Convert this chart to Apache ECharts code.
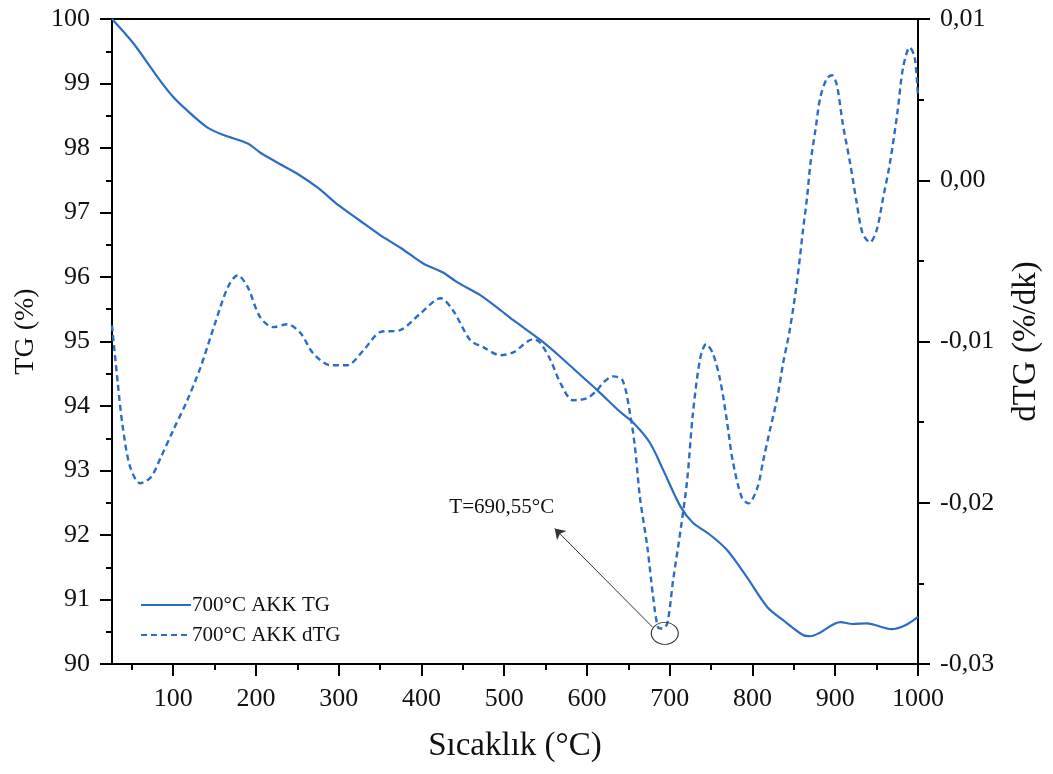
<!DOCTYPE html>
<html>
<head>
<meta charset="utf-8">
<script src="https://cdn.jsdelivr.net/npm/echarts@6/dist/echarts.min.js"></script>
<style>
html,body{margin:0;padding:0;background:#fff;}
#c{width:1053px;height:774px;}
</style>
</head>
<body>
<div id="c"></div>
<script>
// ---- data ----
const tgT = [26,52,81,100,117,141,161,190,205,225,250,275,300,325,350,375,402,426,443,471,495,511,544,568,592,612,640,656,676,692,713,728,749,769,793,818,837,861,870,882,906,921,938,968,986,1000];
const tgV = [100.00,99.62,99.10,98.79,98.58,98.32,98.20,98.07,97.93,97.78,97.60,97.38,97.11,96.88,96.65,96.45,96.21,96.07,95.92,95.72,95.49,95.33,95.02,94.76,94.48,94.25,93.91,93.74,93.43,93.01,92.44,92.19,92.00,91.77,91.35,90.88,90.68,90.45,90.43,90.49,90.65,90.62,90.63,90.54,90.61,90.73];
const dtgT = [26,33,39,48,60,73,85,100,117,133,149,166,178,190,205,221,238,254,269,290,310,330,350,374,399,423,438,459,475,495,511,535,543,556,568,583,600,612,620,632,643,652,658,664,673,680,686,691,697,704,713,721,728,737,744,752,761,769,776,787,795,806,813,821,830,837,845,854,861,866,870,876,882,890,896,902,909,918,926,933,942,950,958,966,975,982,990,996,1000];
const dtgV = [-0.0090,-0.01259,-0.01531,-0.01779,-0.01879,-0.01842,-0.01718,-0.01550,-0.01364,-0.01160,-0.00911,-0.00663,-0.00589,-0.00663,-0.00849,-0.00911,-0.00893,-0.00949,-0.01073,-0.01147,-0.01147,-0.01054,-0.00942,-0.00930,-0.00825,-0.00732,-0.00806,-0.00992,-0.01036,-0.01085,-0.01067,-0.00986,-0.01005,-0.01116,-0.01259,-0.01364,-0.01352,-0.01303,-0.01253,-0.01216,-0.01241,-0.01446,-0.01657,-0.01967,-0.02277,-0.02588,-0.02774,-0.02780,-0.02749,-0.02483,-0.02173,-0.01863,-0.01446,-0.01099,-0.01017,-0.01073,-0.01241,-0.01489,-0.01737,-0.01967,-0.02004,-0.01905,-0.01737,-0.01551,-0.01346,-0.01135,-0.00930,-0.00620,-0.00310,-0.00105,0.00105,0.00310,0.00515,0.00632,0.00651,0.00589,0.00353,0.00105,-0.00143,-0.00329,-0.00385,-0.00310,-0.00105,0.00105,0.00415,0.00700,0.00824,0.00762,0.00515];
const xMajorTicks = [100,200,300,400,500,600,700,800,900,1000];
const xMinorTicks = [50,150,250,350,450,550,650,750,850,950];
const seriesNames = ['700°C AKK TG','700°C AKK dTG'];
const annotText = 'T=690,55°C';
const peakT = 694, peakV = -0.0281;
const arrowFrom = [679, -0.0277], arrowTo = [561, -0.0216];
const textAt = [497, -0.0203];

const tgData = tgT.map((t,i)=>[t,tgV[i]]);
const dtgData = dtgT.map((t,i)=>[t,dtgV[i]]);

const FONT = '"Liberation Serif","Times New Roman",serif';
const BLUE = '#2d6cc4';

const chart = echarts.init(document.getElementById('c'), null, {renderer:'canvas'});
chart.setOption({
  animation:false,
  backgroundColor:'#fff',
  grid:{left:112,right:135,top:19,bottom:110,show:true,borderColor:'#000',borderWidth:2,backgroundColor:'transparent'},
  legend:{
    orient:'vertical',left:135,top:589,itemWidth:50,itemHeight:14,itemGap:8,
    itemStyle:{opacity:0},
    textStyle:{fontFamily:FONT,fontSize:21,color:'#111',lineHeight:22,padding:[0,0,0,-4]},
    data:seriesNames
  },
  xAxis:[{
    type:'value',min:26,max:1000,
    name:'Sıcaklık (°C)',nameLocation:'middle',nameGap:66,
    nameTextStyle:{fontFamily:FONT,fontSize:33,color:'#111'},
    axisLine:{show:true,onZero:false,lineStyle:{color:'#000',width:2}},
    axisTick:{show:true,inside:false,length:12,lineStyle:{color:'#000',width:2},customValues:xMajorTicks},
    axisLabel:{fontFamily:FONT,fontSize:26,color:'#111',margin:22,customValues:xMajorTicks,formatter:v=>String(v)},
    splitLine:{show:false}
  },{
    type:'value',min:26,max:1000,position:'bottom',
    axisLine:{show:false,onZero:false},
    axisTick:{show:true,length:6,lineStyle:{color:'#000',width:2},customValues:xMinorTicks},
    axisLabel:{show:false,customValues:xMinorTicks},
    splitLine:{show:false}
  }],
  yAxis:[{
    type:'value',min:90,max:100,interval:1,position:'left',
    name:'TG (%)',nameLocation:'middle',nameGap:70,
    nameTextStyle:{fontFamily:FONT,fontSize:28,color:'#111',padding:[0,0,0,20]},
    axisLine:{show:true,onZero:false,lineStyle:{color:'#000',width:2}},
    axisTick:{show:true,length:12,lineStyle:{color:'#000',width:2}},
    minorTick:{show:true,splitNumber:2,length:6,lineStyle:{color:'#000',width:2}},
    axisLabel:{fontFamily:FONT,fontSize:26,color:'#111',margin:22},
    splitLine:{show:false}
  },{
    type:'value',min:-0.03,max:0.01,interval:0.01,position:'right',
    name:'dTG (%/dk)',nameLocation:'middle',nameGap:92,nameRotate:90,
    nameTextStyle:{fontFamily:FONT,fontSize:33,color:'#111'},
    axisLine:{show:true,onZero:false,lineStyle:{color:'#000',width:2}},
    axisTick:{show:true,length:12,lineStyle:{color:'#000',width:2}},
    minorTick:{show:true,splitNumber:2,length:6,lineStyle:{color:'#000',width:2}},
    axisLabel:{fontFamily:FONT,fontSize:26,color:'#111',margin:22,
      formatter:v=>{let s=(Math.abs(v)<1e-9?0:v).toFixed(2);return s.replace('.',',');}},
    splitLine:{show:false}
  }],
  series:[{
    name:seriesNames[0],type:'line',xAxisIndex:0,yAxisIndex:0,data:tgData,
    smooth:0.3,symbol:'none',lineStyle:{color:BLUE,width:2.2},itemStyle:{color:BLUE}
  },{
    name:seriesNames[1],type:'line',xAxisIndex:0,yAxisIndex:1,data:dtgData,
    smooth:0.3,symbol:'none',lineStyle:{color:BLUE,width:2.4,type:[6,4]},itemStyle:{color:BLUE},
    markLine:{
      silent:true,symbol:['none','arrow'],symbolSize:10,
      label:{show:false},
      lineStyle:{color:'#333',width:1,type:'solid'},
      data:[[{coord:arrowFrom},{coord:arrowTo}]]
    },
    markPoint:{
      silent:true,
      data:[
        {coord:[peakT,peakV],symbol:'circle',symbolSize:[27,22],
         itemStyle:{color:'rgba(0,0,0,0)',borderColor:'#333',borderWidth:1},label:{show:false}},
        {coord:textAt,symbol:'circle',symbolSize:1,itemStyle:{color:'rgba(0,0,0,0)'},
         label:{show:true,position:'inside',formatter:annotText,fontFamily:FONT,fontSize:21,color:'#111'}}
      ]
    }
  }]
});
</script>
</body>
</html>
